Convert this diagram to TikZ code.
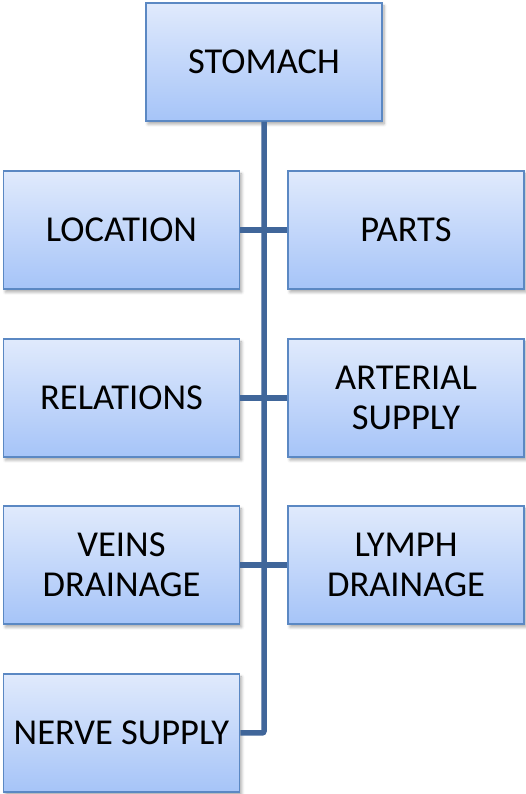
\documentclass[tikz,border=0pt]{standalone}
\usepackage{fontspec}
\setmainfont{Carlito}
\usetikzlibrary{shadows.blur}
\definecolor{boxtop}{HTML}{E0EAFC}
\definecolor{boxbot}{HTML}{A6C4F8}
\definecolor{boxline}{HTML}{5B88C3}
\definecolor{conn}{HTML}{40669A}
\begin{document}
\begin{tikzpicture}[x=1pt,y=1pt,
  box/.style={draw=boxline, line width=1.5pt, top color=boxtop, bottom color=boxbot,
    minimum width=236pt, minimum height=118pt, inner sep=0pt, align=center,
    font=\fontsize{36.5}{40}\selectfont,
    blur shadow={shadow xshift=2pt, shadow yshift=-3pt, shadow blur steps=6, shadow opacity=35, shadow blur radius=3pt}},
  conn/.style={draw=conn, line width=5.5pt}]
\useasboundingbox (0,0) rectangle (526,794);
\node[box] (stomach) at (264,732) {STOMACH};
\node[box] (location) at (121.5,564) {LOCATION};
\node[box] (parts) at (406,564) {PARTS};
\node[box] (relations) at (121.5,396) {RELATIONS};
\node[box] (arterial) at (406,396) {ARTERIAL\\SUPPLY};
\node[box] (veins) at (121.5,229) {VEINS\\DRAINAGE};
\node[box] (lymph) at (406,229) {LYMPH\\DRAINAGE};
\node[box] (nerve) at (121.5,61) {NERVE SUPPLY};
\coordinate (trunkbottom) at (264,61);
\draw[conn, rounded corners=2pt] (stomach.south) -- (trunkbottom) -- (nerve.east);
\draw[conn] (location.east) -- (parts.west);
\draw[conn] (relations.east) -- (arterial.west);
\draw[conn] (veins.east) -- (lymph.west);
\end{tikzpicture}
\end{document}
